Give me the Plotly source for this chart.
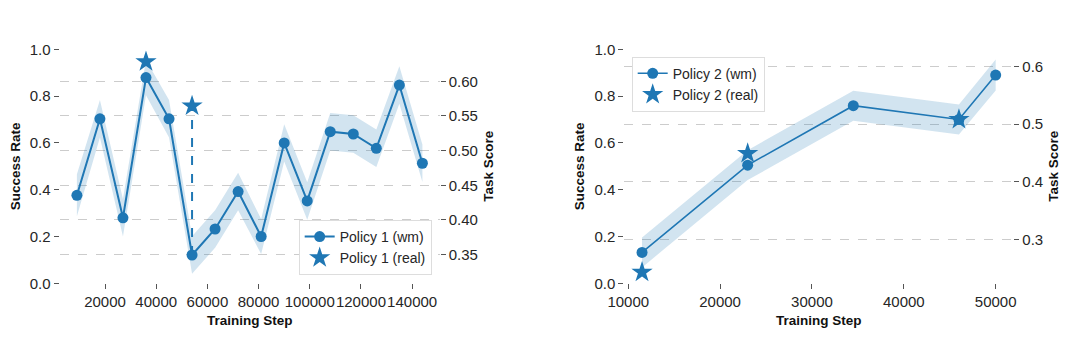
import plotly.graph_objects as go

# ---------------- data ----------------
steps1 = [9000, 18000, 27000, 36000, 45000, 54000, 63000, 72000, 81000,
          90000, 99000, 108000, 117000, 126000, 135000, 144000]
wm1 = [0.376, 0.703, 0.280, 0.879, 0.703, 0.121, 0.232, 0.392, 0.200,
       0.600, 0.352, 0.648, 0.638, 0.577, 0.847, 0.513]
wm1_err = [0.09, 0.08, 0.08, 0.075, 0.08, 0.08, 0.08, 0.08, 0.075,
           0.08, 0.08, 0.08, 0.08, 0.08, 0.08, 0.08]
real1_steps = [36000, 54000]
real1 = [0.947, 0.758]

steps2 = [11500, 23000, 34500, 46000, 50000]
wm2 = [0.132, 0.505, 0.759, 0.700, 0.890]
wm2_err = [0.064, 0.064, 0.064, 0.064, 0.066]
real2_steps = [11500, 23000, 46000]
real2 = [0.047, 0.555, 0.700]

xticks1 = [20000, 40000, 60000, 80000, 100000, 120000, 140000]
xticks2 = [10000, 20000, 30000, 40000, 50000]
sr_ticks = [0.0, 0.2, 0.4, 0.6, 0.8, 1.0]
score_ticks1 = [0.35, 0.40, 0.45, 0.50, 0.55, 0.60]
score_ticks2 = [0.3, 0.4, 0.5, 0.6]

# ---------------- style ----------------
BLUE = "#1f77b4"
BAND = "rgba(31,119,180,0.2)"
FONT = "Liberation Sans, Arial, sans-serif"
TXT = "#262626"

fig = go.Figure()


def add_panel(fig, xa, ya, steps, wm, err, rsteps, real, lw, name_wm, name_real, connector, leg):
    lo = [v - e for v, e in zip(wm, err)]
    hi = [v + e for v, e in zip(wm, err)]
    fig.add_trace(go.Scatter(x=steps, y=lo, xaxis=xa, yaxis=ya, mode="lines",
                             line=dict(width=0, color=BAND), showlegend=False, hoverinfo="skip"))
    fig.add_trace(go.Scatter(x=steps, y=hi, xaxis=xa, yaxis=ya, mode="lines", fill="tonexty",
                             fillcolor=BAND, line=dict(width=0, color=BAND),
                             showlegend=False, hoverinfo="skip"))
    if connector:
        for s in rsteps:
            if s in steps:
                i = steps.index(s)
                j = rsteps.index(s)
                if abs(real[j] - wm[i]) > 0.1:
                    fig.add_trace(go.Scatter(x=[s, s], y=[wm[i], real[j]], xaxis=xa, yaxis=ya,
                                             mode="lines", line=dict(color=BLUE, width=2, dash="dash"),
                                             showlegend=False, hoverinfo="skip"))
    fig.add_trace(go.Scatter(x=steps, y=wm, xaxis=xa, yaxis=ya, mode="lines+markers",
                             name=name_wm, line=dict(color=BLUE, width=lw),
                             marker=dict(color=BLUE, size=11, symbol="circle"),
                             legend=leg))
    fig.add_trace(go.Scatter(x=rsteps, y=real, xaxis=xa, yaxis=ya, mode="markers",
                             name=name_real, marker=dict(color=BLUE, size=16, symbol="star",
                                                         line=dict(width=0)),
                             legend=leg))


add_panel(fig, "x", "y", steps1, wm1, wm1_err, real1_steps, real1, 2,
          "Policy 1 (wm)", "Policy 1 (real)", True, "legend")
add_panel(fig, "x2", "y3", steps2, wm2, wm2_err, real2_steps, real2, 1.6,
          "Policy 2 (wm)", "Policy 2 (real)", False, "legend2")

# helper invisible traces so the secondary axes are instantiated
fig.add_trace(go.Scatter(x=[None], y=[None], xaxis="x", yaxis="y2", showlegend=False, hoverinfo="skip"))
fig.add_trace(go.Scatter(x=[None], y=[None], xaxis="x2", yaxis="y4", showlegend=False, hoverinfo="skip"))

ydom = [0.1643, 0.8546]
tickfont = dict(family=FONT, size=15, color=TXT)
titlefont = dict(family=FONT, size=13.5, color="#111111", weight="bold")

common_x = dict(showgrid=False, zeroline=False, showline=False, ticks="outside", ticklen=5,
                tickcolor="#555555", tickwidth=1.2, tickfont=tickfont, tickformat="d",
                tickangle=0, automargin=False)
common_y = dict(showgrid=False, zeroline=False, showline=False, ticks="outside", ticklen=5,
                tickcolor="#555555", tickwidth=1.2, tickfont=tickfont, automargin=False)
grid_y = dict(showgrid=True, gridcolor="#cccccc", griddash="dash", gridwidth=1)

fig.update_layout(
    width=1080, height=339,
    margin=dict(l=0, r=0, t=0, b=0),
    paper_bgcolor="white", plot_bgcolor="white",
    font=dict(family=FONT, color=TXT),
    xaxis=dict(domain=[0.0552, 0.4071], range=[2250, 150750], tickvals=xticks1,
               anchor="y", title=dict(text="Training Step", font=titlefont, standoff=6), **common_x),
    yaxis=dict(domain=ydom, range=[0, 1.0], tickvals=sr_ticks, tickformat=".1f", anchor="x",
               title=dict(text="Success Rate", font=titlefont, standoff=6), **common_y),
    yaxis2=dict(domain=ydom, range=[0.3086, 0.6462], tickvals=score_ticks1, tickformat=".2f",
                overlaying="y", side="right", anchor="x",
                title=dict(text="Task Score", font=titlefont, standoff=6),
                **{**common_y, **grid_y}),
    xaxis2=dict(domain=[0.5781, 0.9383], range=[9575, 51925], tickvals=xticks2,
                anchor="y3", title=dict(text="Training Step", font=titlefont, standoff=6), **common_x),
    yaxis3=dict(domain=ydom, range=[0, 1.0], tickvals=sr_ticks, tickformat=".1f", anchor="x2",
                title=dict(text="Success Rate", font=titlefont, standoff=6), **common_y),
    yaxis4=dict(domain=ydom, range=[0.2235, 0.6302], tickvals=score_ticks2, tickformat=".1f",
                overlaying="y3", side="right", anchor="x2",
                title=dict(text="Task Score", font=titlefont, standoff=6),
                **{**common_y, **grid_y}),
    legend=dict(x=0.3997, y=0.1888, xanchor="right", yanchor="bottom", traceorder="normal",
                bgcolor="white", bordercolor="#dddddd", borderwidth=1,
                font=dict(family=FONT, size=14, color=TXT), tracegroupgap=0),
    legend2=dict(x=0.5849, y=0.8327, xanchor="left", yanchor="top", traceorder="normal",
                 bgcolor="white", bordercolor="#dddddd", borderwidth=1,
                 font=dict(family=FONT, size=14, color=TXT), tracegroupgap=0),
)

fig.write_html("out.html")
